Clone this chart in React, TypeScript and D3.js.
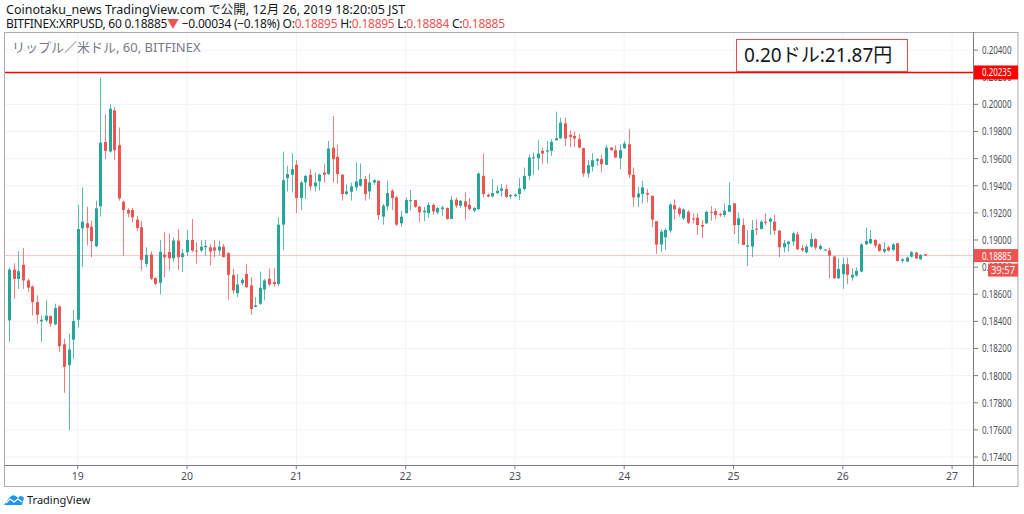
import React from 'react';
import * as d3 from 'd3';

// hourly XRPUSD candles, Dec 18 09:00 .. Dec 26 18:00 (JST, kept as UTC)
const firstCandle = Date.UTC(2019, 11, 18, 9);
const HOUR = 3600 * 1000;

const opens = [
  0.18407, 0.18782, 0.18713, 0.18817, 0.18702, 0.18657, 0.18542, 0.184, 0.18407, 0.18439,
  0.18378, 0.1851, 0.18231, 0.18077, 0.18265, 0.18412, 0.19086, 0.19123, 0.19098, 0.18954,
  0.19248, 0.19723, 0.19652, 0.19956, 0.19699, 0.19282, 0.19221, 0.19221, 0.1915, 0.19094,
  0.18824, 0.18893, 0.18719, 0.18684, 0.18893, 0.18912, 0.18865, 0.18996, 0.18873, 0.1891,
  0.19, 0.18922, 0.18922, 0.18946, 0.18946, 0.18946, 0.18922, 0.18951, 0.18902, 0.18743,
  0.18608, 0.18682, 0.1875, 0.18665, 0.18506, 0.1853, 0.18635, 0.18714, 0.1869, 0.18675,
  0.19113, 0.19456, 0.19481, 0.19554, 0.19309, 0.19424, 0.19481, 0.19395, 0.19432, 0.19498,
  0.19486, 0.19681, 0.19613, 0.19481, 0.19339, 0.19356, 0.19388, 0.194, 0.19449, 0.19358,
  0.19424, 0.19437, 0.19172, 0.19248, 0.19363, 0.19314, 0.19123, 0.19199, 0.1929, 0.19294,
  0.19245, 0.19204, 0.19199, 0.19258, 0.19204, 0.19228, 0.19236, 0.19155, 0.19297, 0.19253,
  0.19285, 0.1926, 0.19216, 0.19228, 0.19473, 0.19334, 0.19321, 0.19346, 0.19363, 0.19375,
  0.19321, 0.19324, 0.19339, 0.19375, 0.19473, 0.19603, 0.19603, 0.19657, 0.19652, 0.19657,
  0.19735, 0.1975, 0.1986, 0.19775, 0.19767, 0.19743, 0.19677, 0.1949, 0.1954, 0.19584,
  0.19596, 0.19554, 0.19681, 0.19662, 0.19603, 0.19677, 0.19706, 0.19481, 0.19314, 0.19339,
  0.19346, 0.19326, 0.19138, 0.18966, 0.1902, 0.19069, 0.19257, 0.19233, 0.19159, 0.19208,
  0.19159, 0.19164, 0.1911, 0.19123, 0.19208, 0.19213, 0.19191, 0.19184, 0.19208, 0.1927,
  0.1911, 0.1911, 0.18951, 0.18951, 0.19083, 0.19081, 0.19135, 0.19135, 0.19135, 0.19069,
  0.18946, 0.18971, 0.18988, 0.19042, 0.18939, 0.18909, 0.18951, 0.19007, 0.18934, 0.18922,
  0.18922, 0.18878, 0.18718, 0.18748, 0.18821, 0.18723, 0.18738, 0.18767, 0.18968, 0.18976,
  0.19, 0.18968, 0.18914, 0.18946, 0.18927, 0.18976, 0.18846, 0.18841, 0.18877, 0.18907,
  0.18858, 0.18895,
];
const highs = [
  0.18795, 0.18829, 0.18917, 0.18942, 0.18714, 0.18665, 0.18591, 0.18444, 0.18555, 0.18444,
  0.1853, 0.18518, 0.18273, 0.1831, 0.18486, 0.1926, 0.19388, 0.19245, 0.19143, 0.1929,
  0.20196, 0.19927, 0.2, 0.1998, 0.19829, 0.1929, 0.19233, 0.19236, 0.19179, 0.19143,
  0.18947, 0.18915, 0.18726, 0.19, 0.19057, 0.19049, 0.1902, 0.19081, 0.18934, 0.19074,
  0.19155, 0.18983, 0.19, 0.19, 0.18971, 0.19, 0.18995, 0.18971, 0.1891, 0.18787,
  0.1875, 0.18721, 0.18824, 0.18726, 0.18579, 0.18768, 0.18714, 0.1879, 0.18794, 0.19167,
  0.19652, 0.19547, 0.1964, 0.19588, 0.19436, 0.19481, 0.19522, 0.19498, 0.1949, 0.19559,
  0.1973, 0.19914, 0.19701, 0.19486, 0.19412, 0.19424, 0.19571, 0.19564, 0.19473, 0.1949,
  0.19449, 0.19437, 0.19265, 0.19437, 0.19375, 0.19326, 0.19216, 0.19314, 0.19368, 0.19294,
  0.19253, 0.19245, 0.19277, 0.1927, 0.19245, 0.19253, 0.1924, 0.19326, 0.19314, 0.19294,
  0.19351, 0.19309, 0.19245, 0.19498, 0.19637, 0.19343, 0.19449, 0.194, 0.19412, 0.19407,
  0.19339, 0.19343, 0.19456, 0.19534, 0.19632, 0.19645, 0.19735, 0.19681, 0.1973, 0.19743,
  0.19946, 0.19902, 0.19902, 0.19809, 0.19799, 0.1978, 0.19681, 0.19588, 0.1964, 0.19603,
  0.19628, 0.19701, 0.19686, 0.19699, 0.19706, 0.1973, 0.19816, 0.19535, 0.19392, 0.19436,
  0.19375, 0.19326, 0.19138, 0.19081, 0.19086, 0.1927, 0.19299, 0.19245, 0.19233, 0.1922,
  0.19196, 0.19196, 0.19147, 0.19216, 0.1925, 0.19233, 0.19201, 0.1927, 0.19424, 0.1927,
  0.19201, 0.19159, 0.19074, 0.19147, 0.19152, 0.19147, 0.19196, 0.19167, 0.19184, 0.19074,
  0.19, 0.18995, 0.19062, 0.19061, 0.18963, 0.18968, 0.19049, 0.19012, 0.18968, 0.18934,
  0.18944, 0.18885, 0.18865, 0.1887, 0.1887, 0.18792, 0.18797, 0.18976, 0.19091, 0.19074,
  0.19007, 0.18976, 0.18983, 0.18958, 0.18976, 0.18976, 0.18865, 0.18877, 0.18919, 0.18914,
  0.18895, 0.18895,
];
const lows = [
  0.18248, 0.18567, 0.1864, 0.1864, 0.18616, 0.18444, 0.18383, 0.18248, 0.18395, 0.18359,
  0.18371, 0.18175, 0.17873, 0.17599, 0.18126, 0.18354, 0.188, 0.18959, 0.18873, 0.18947,
  0.19172, 0.19596, 0.19645, 0.19588, 0.1929, 0.18885, 0.19167, 0.1913, 0.19064, 0.18775,
  0.188, 0.18706, 0.18665, 0.18599, 0.18726, 0.18775, 0.18836, 0.1878, 0.18763, 0.18885,
  0.1891, 0.18824, 0.1891, 0.18885, 0.18812, 0.18873, 0.18885, 0.18873, 0.18559, 0.18604,
  0.18579, 0.18665, 0.18645, 0.18449, 0.18505, 0.18522, 0.18555, 0.1866, 0.18655, 0.1866,
  0.18922, 0.19358, 0.19351, 0.19199, 0.19221, 0.19302, 0.19363, 0.19358, 0.19363, 0.19424,
  0.19481, 0.19424, 0.19417, 0.1929, 0.19331, 0.1929, 0.19363, 0.19392, 0.1929, 0.19302,
  0.19407, 0.19147, 0.19113, 0.19216, 0.19221, 0.19106, 0.19098, 0.19192, 0.19216, 0.19236,
  0.1913, 0.19138, 0.19162, 0.19187, 0.19187, 0.19179, 0.1915, 0.19155, 0.19236, 0.19236,
  0.1915, 0.19216, 0.19204, 0.19221, 0.19314, 0.19314, 0.19314, 0.19339, 0.19319, 0.19309,
  0.19302, 0.19314, 0.19294, 0.19363, 0.19441, 0.1948, 0.19515, 0.19559, 0.19564, 0.1962,
  0.19735, 0.19743, 0.19694, 0.19686, 0.19686, 0.19677, 0.19466, 0.19461, 0.19505, 0.19547,
  0.19498, 0.19554, 0.19662, 0.19603, 0.19522, 0.1967, 0.19456, 0.19245, 0.1924, 0.1927,
  0.19277, 0.19094, 0.18898, 0.1891, 0.18927, 0.19054, 0.19152, 0.19172, 0.19147, 0.19118,
  0.19123, 0.19037, 0.19012, 0.19118, 0.19142, 0.19152, 0.19172, 0.19167, 0.19208, 0.19042,
  0.18971, 0.18963, 0.18809, 0.18873, 0.19037, 0.19076, 0.1911, 0.19037, 0.19037, 0.18873,
  0.18907, 0.18914, 0.18956, 0.18927, 0.18914, 0.18902, 0.18944, 0.18927, 0.18927, 0.18917,
  0.18718, 0.18713, 0.18713, 0.1864, 0.18674, 0.18699, 0.1873, 0.18762, 0.18963, 0.18968,
  0.18944, 0.18914, 0.18902, 0.18914, 0.18919, 0.18841, 0.18829, 0.18836, 0.1887, 0.1886,
  0.18853, 0.18884,
];
const closes = [
  0.18782, 0.18713, 0.1877, 0.18702, 0.18648, 0.18542, 0.18449, 0.18412, 0.18442, 0.18383,
  0.18498, 0.18216, 0.18065, 0.18192, 0.18403, 0.19081, 0.19135, 0.19089, 0.18991, 0.19233,
  0.19718, 0.19657, 0.19968, 0.19662, 0.19307, 0.19221, 0.19196, 0.19167, 0.19089, 0.18853,
  0.1889, 0.18714, 0.18677, 0.18912, 0.18873, 0.18865, 0.18996, 0.18873, 0.18902, 0.19,
  0.18922, 0.18915, 0.18951, 0.18956, 0.18915, 0.18922, 0.18951, 0.18873, 0.18743, 0.18628,
  0.18672, 0.18706, 0.18652, 0.18491, 0.18518, 0.18648, 0.18701, 0.18672, 0.18675, 0.19113,
  0.19441, 0.19486, 0.19522, 0.19309, 0.19424, 0.19473, 0.19395, 0.19424, 0.19481, 0.19481,
  0.19674, 0.19596, 0.19486, 0.19339, 0.19358, 0.19395, 0.19432, 0.19449, 0.19339, 0.19424,
  0.19441, 0.19184, 0.19253, 0.19346, 0.19309, 0.19113, 0.19172, 0.19294, 0.19294, 0.19245,
  0.19204, 0.19216, 0.19258, 0.19211, 0.19236, 0.1924, 0.19155, 0.19297, 0.19253, 0.1929,
  0.19245, 0.19228, 0.19236, 0.1949, 0.19339, 0.19321, 0.19346, 0.19363, 0.1938, 0.19319,
  0.19331, 0.19334, 0.1938, 0.19473, 0.19608, 0.1961, 0.19637, 0.19637, 0.19662, 0.19723,
  0.1975, 0.19865, 0.19748, 0.1976, 0.19748, 0.19681, 0.1949, 0.19552, 0.19588, 0.19596,
  0.19559, 0.19681, 0.19662, 0.19608, 0.19662, 0.19711, 0.19481, 0.19314, 0.19343, 0.19388,
  0.19334, 0.1915, 0.18966, 0.19062, 0.19074, 0.19262, 0.19225, 0.19191, 0.19225, 0.19127,
  0.19152, 0.1911, 0.19098, 0.19208, 0.19201, 0.19184, 0.19184, 0.19216, 0.19257, 0.1911,
  0.19159, 0.18963, 0.18961, 0.19074, 0.19076, 0.19135, 0.19127, 0.19157, 0.19069, 0.18946,
  0.18976, 0.18988, 0.19049, 0.18931, 0.18924, 0.18951, 0.19007, 0.18944, 0.18956, 0.18929,
  0.18885, 0.18718, 0.18787, 0.18821, 0.18743, 0.18743, 0.18772, 0.18968, 0.18993, 0.19007,
  0.18958, 0.18919, 0.18934, 0.18922, 0.18968, 0.18846, 0.18858, 0.1887, 0.18909, 0.18865,
  0.1889, 0.18885,
];

const dayTicks = [19, 20, 21, 22, 23, 24, 25, 26, 27];
const alertPrice = 0.20235;
const lastPrice = 0.18885;
const noteText = '0.20ドル:21.87円';

const UP = '#26a69a';
const DOWN = '#ef5350';
const font = '"Noto Sans", "Noto Sans CJK JP", sans-serif';

const plot = { left: 5, right: 973, top: 32, bottom: 465 };

const xScale = d3
  .scaleUtc()
  .domain([new Date(Date.UTC(2019, 11, 19)), new Date(Date.UTC(2019, 11, 27))])
  .range([77.7, 952.1]);

const yScale = d3.scaleLinear().domain([0.174, 0.204]).range([457, 50.1]);
const fmt = d3.format('.5f');

// axis price text, squeezed a little to the width TradingView uses
const AxisPrice = ({ y, value, fill }: { y: number; value: number; fill: string }) => (
  <text x={982} y={y + 4} fontSize={10.5} fill={fill} textLength={29.5} lengthAdjust="spacingAndGlyphs">
    {fmt(value)}
  </text>
);

const TradingViewLogo = () => (
  <g transform="translate(4,492)">
    <path d="M0,13 L5,6 Q9,1 13,5 L14,6 Q17,2 20,6 L18,13 Z" fill="#2196f3" />
    <path d="M2,11 L6,7 L10,10 L14,7 L18,10" fill="none" stroke="#fff" strokeWidth={1.3} />
  </g>
);

export default function App() {
  const candles = opens.map((o, i) => ({
    time: new Date(firstCandle + i * HOUR),
    open: o,
    high: highs[i],
    low: lows[i],
    close: closes[i],
  }));
  const priceTicks = yScale.ticks(15);
  const bodyW = 3;

  return (
    <div style={{ position: 'absolute', left: 0, top: 0 }}>
      <svg width={1024} height={514} style={{ display: 'block', background: '#fff', fontFamily: font }}>
        <defs>
          <clipPath id="plot-clip">
            <rect x={plot.left} y={plot.top} width={plot.right - plot.left} height={plot.bottom - plot.top} />
          </clipPath>
        </defs>

        {/* header */}
        <text x={6} y={14} fontSize={12.5} fill="#131722">
          Coinotaku_news TradingView.com で公開, 12月 26, 2019 18:20:05 JST
        </text>
        <text x={6} y={28} fontSize={12} letterSpacing={-0.25} fill="#131722">
          BITFINEX:XRPUSD, 60 0.18885<tspan fill={DOWN}>▼</tspan> −0.00034 (−0.18%) O:<tspan fill={DOWN}>0.18895</tspan> H:
          <tspan fill={DOWN}>0.18895</tspan> L:<tspan fill={DOWN}>0.18884</tspan> C:<tspan fill={DOWN}>0.18885</tspan>
        </text>

        {/* grid */}
        <g clipPath="url(#plot-clip)">
          {priceTicks.map((t) => (
            <line key={`gy-${t}`} x1={plot.left} x2={plot.right} y1={yScale(t)} y2={yScale(t)} stroke="#f0f3fa" />
          ))}
          {dayTicks.map((d) => {
            const x = xScale(new Date(Date.UTC(2019, 11, d)));
            return <line key={`gx-${d}`} x1={x} x2={x} y1={plot.top} y2={plot.bottom} stroke="#f0f3fa" />;
          })}
        </g>

        <text x={12} y={52} fontSize={13} fill="#787b86">
          リップル／米ドル, 60, BITFINEX
        </text>

        {/* candles */}
        <g clipPath="url(#plot-clip)">
          <line x1={plot.left} x2={plot.right} y1={yScale(lastPrice)} y2={yScale(lastPrice)} stroke={DOWN} strokeOpacity={0.35} />
          {candles.map((c) => {
            const x = Math.round(xScale(c.time));
            const up = c.close >= c.open;
            const color = up ? UP : DOWN;
            const yTop = yScale(Math.max(c.open, c.close));
            const yBot = yScale(Math.min(c.open, c.close));
            return (
              <g key={c.time.getTime()}>
                <line x1={x + 0.5} x2={x + 0.5} y1={yScale(c.high)} y2={yScale(c.low)} stroke={color} strokeOpacity={0.75} />
                <rect x={x + 0.5 - bodyW / 2} y={yTop} width={bodyW} height={Math.max(1, yBot - yTop)} fill={color} />
              </g>
            );
          })}
          <line x1={plot.left} x2={plot.right} y1={yScale(alertPrice)} y2={yScale(alertPrice)} stroke="#ff0000" strokeWidth={1.5} />
        </g>

        {/* annotation */}
        <rect x={736.5} y={39.5} width={171} height={32} fill="#fff" stroke="#f04848" />
        <text x={744} y={62} fontSize={19} fill="#131722">
          {noteText}
        </text>

        {/* frame & axes */}
        <rect x={4.5} y={32.5} width={1013.5} height={454} fill="none" stroke="#a9abb3" />
        <line x1={973.5} x2={973.5} y1={32} y2={487} stroke="#787b86" />
        <line x1={4.5} x2={1018} y1={465.5} y2={465.5} stroke="#787b86" />

        {priceTicks.map((t) => (
          <g key={`yl-${t}`}>
            <line x1={974} x2={978} y1={yScale(t)} y2={yScale(t)} stroke="#787b86" />
            <AxisPrice y={yScale(t)} value={t} fill="#4a4d57" />
          </g>
        ))}
        {dayTicks.map((d) => {
          const x = xScale(new Date(Date.UTC(2019, 11, d)));
          return (
            <g key={`xl-${d}`}>
              <line x1={x} x2={x} y1={466} y2={469} stroke="#787b86" />
              <text x={x} y={480} fontSize={10.5} fill="#4a4d57" textAnchor="middle">
                {d}
              </text>
            </g>
          );
        })}

        {/* price labels */}
        <rect x={974} y={yScale(alertPrice) - 7} width={44} height={14} fill="#ff0000" />
        <AxisPrice y={yScale(alertPrice)} value={alertPrice} fill="#fff" />
        <rect x={974} y={yScale(lastPrice) - 6.5} width={44} height={13} fill={DOWN} />
        <AxisPrice y={yScale(lastPrice)} value={lastPrice} fill="#fff" />
        <rect x={988} y={yScale(lastPrice) + 8} width={30} height={13} fill={DOWN} />
        <text x={991} y={yScale(lastPrice) + 18.5} fontSize={10.5} fill="#fff" textLength={24} lengthAdjust="spacingAndGlyphs">
          39:57
        </text>

        <TradingViewLogo />
        <text x={27} y={504} fontSize={11} fill="#131722">
          TradingView
        </text>
      </svg>
    </div>
  );
}
